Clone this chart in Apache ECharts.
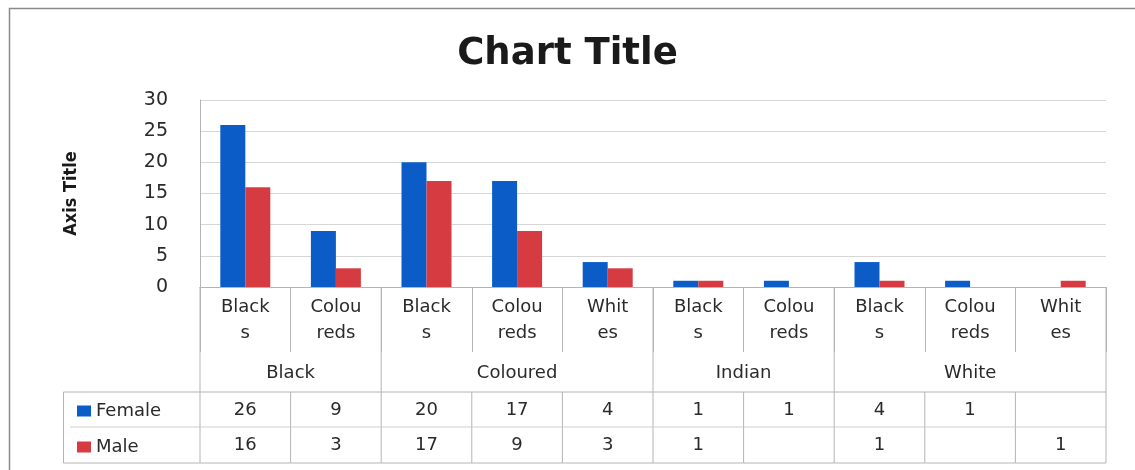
<!DOCTYPE html>
<html>
<head>
<meta charset="utf-8">
<title>Chart Title</title>
<script src="https://cdn.jsdelivr.net/npm/echarts@6.0.0/dist/echarts.min.js"></script>
<style>
  html, body { margin: 0; padding: 0; background: #ffffff; }
  #chart { width: 1135px; height: 470px; }
</style>
</head>
<body>
<div id="chart"></div>
<script>
// Sub-categories along the axis (wrapped the way the cells wrap them)
const subCategories = ['Black\ns', 'Colou\nreds', 'Black\ns', 'Colou\nreds', 'Whit\nes',
                       'Black\ns', 'Colou\nreds', 'Black\ns', 'Colou\nreds', 'Whit\nes'];
// Outer grouping and how many sub-categories each group spans
const groupNames = ['Black', 'Coloured', 'Indian', 'White'];
const groupSizes = [2, 3, 2, 3];
// Series values (null = empty cell)
const seriesNames = ['Female', 'Male'];
const female = [26, 9, 20, 17, 4, 1, 1, 4, 1, null];
const male   = [16, 3, 17, 9, 3, 1, null, 1, null, 1];
// Value axis ticks
const yMin = 0, yMax = 30, yStep = 5;

const BLUE = '#0b5cc6';
const RED = '#d73b42';
const TEXT = '#2a2a2a';
const RULE = '#b4b4b4';
const FONT = "'DejaVu Sans', Verdana, sans-serif";

// group spans: [startIndex, size]
const groupSpans = [];
let acc = 0;
groupSizes.forEach(function (n) { groupSpans.push([acc, n]); acc += n; });

const N = subCategories.length;

function rule(xa, ya, xb, yb, color) {
  return { type: 'line', shape: { x1: xa, y1: ya, x2: xb, y2: yb },
           style: { stroke: color || RULE, lineWidth: 1 } };
}

// Group captions and the separators between groups
function renderGroup(params, api) {
  const start = api.value(0), size = api.value(1);
  const band = api.size([1, 0])[0];
  const c = api.coord([start, 0]);
  const x0 = c[0] - band / 2, x1 = x0 + size * band, y0 = c[1];
  const children = [
    rule(x0, y0, x0, y0 + 105),
    {
      type: 'text',
      style: { text: groupNames[params.dataIndex], x: (x0 + x1) / 2, y: y0 + 86,
               align: 'center', verticalAlign: 'middle', fill: TEXT,
               font: '18px ' + FONT }
    }
  ];
  if (params.dataIndex === groupSpans.length - 1) children.push(rule(x1, y0, x1, y0 + 105));
  return { type: 'group', children: children };
}

// Data-table cells beneath each sub-category
function renderCell(params, api) {
  const i = api.value(0);
  const band = api.size([1, 0])[0];
  const c = api.coord([i, 0]);
  const x0 = c[0] - band / 2, x1 = c[0] + band / 2, y0 = c[1];
  const f = female[params.dataIndex], m = male[params.dataIndex];
  const children = [
    rule(x0, y0 + 105, x0, y0 + 176),
    rule(x0, y0 + 105, x1, y0 + 105),
    rule(x0, y0 + 140, x1, y0 + 140, '#cfcfcf'),
    rule(x0, y0 + 176, x1, y0 + 176),
    { type: 'text', style: { text: f == null ? '' : String(f), x: c[0], y: y0 + 123,
        align: 'center', verticalAlign: 'middle', fill: TEXT, font: '18px ' + FONT } },
    { type: 'text', style: { text: m == null ? '' : String(m), x: c[0], y: y0 + 158,
        align: 'center', verticalAlign: 'middle', fill: TEXT, font: '18px ' + FONT } }
  ];
  if (i === N - 1) children.push(rule(x1, y0 + 105, x1, y0 + 176));
  return { type: 'group', children: children };
}

const chart = echarts.init(document.getElementById('chart'), null, { renderer: 'canvas' });

chart.setOption({
  animation: false,
  backgroundColor: '#ffffff',
  title: {
    text: 'Chart Title',
    left: 'center',
    top: 31,
    textStyle: { fontFamily: FONT, fontSize: 37, fontWeight: 'bold', color: '#1a1a1a' }
  },
  legend: {
    data: seriesNames,
    orient: 'vertical',
    left: 72,
    top: 395,
    itemWidth: 14,
    itemHeight: 11,
    itemGap: 14,
    icon: 'rect',
    selectedMode: false,
    textStyle: { fontFamily: FONT, fontSize: 18, color: TEXT, lineHeight: 22 }
  },
  grid: { left: 200, right: 29, top: 100, bottom: 183 },
  xAxis: {
    type: 'category',
    data: subCategories,
    axisLine: { show: true, lineStyle: { color: RULE } },
    axisTick: { show: true, interval: 0, length: 65, lineStyle: { color: RULE } },
    axisLabel: { interval: 0, margin: 7, fontFamily: FONT, fontSize: 18,
                 lineHeight: 26, color: TEXT, hideOverlap: false },
    splitLine: { show: false }
  },
  yAxis: {
    type: 'value',
    min: yMin, max: yMax, interval: yStep,
    name: 'Axis Title',
    nameLocation: 'middle',
    nameRotate: 90,
    nameGap: 120,
    nameTextStyle: { fontFamily: "'Liberation Sans Narrow', 'DejaVu Sans Condensed', sans-serif",
                     fontSize: 18, fontWeight: 'bold', color: '#1a1a1a' },
    axisLine: { show: true, lineStyle: { color: RULE } },
    axisTick: { show: false },
    axisLabel: { margin: 32, fontFamily: FONT, fontSize: 19, color: TEXT },
    splitLine: { show: true, lineStyle: { color: '#d6d6d6' } }
  },
  series: [
    { name: 'Female', type: 'bar', data: female, barWidth: 25, barGap: '0%',
      itemStyle: { color: BLUE } },
    { name: 'Male', type: 'bar', data: male, barWidth: 25, barGap: '0%',
      itemStyle: { color: RED } },
    { type: 'custom', name: 'groups', clip: false, silent: true,
      data: groupSpans, encode: { x: 0 }, renderItem: renderGroup, z: 5 },
    { type: 'custom', name: 'table', clip: false, silent: true,
      data: subCategories.map(function (_, i) { return [i]; }), encode: { x: 0 },
      renderItem: renderCell, z: 5 }
  ],
  graphic: [
    // outer chart frame
    { type: 'polyline', shape: { points: [[9.5, 470], [9.5, 8.5], [1135, 8.5]] },
      style: { stroke: '#8a8a8a', lineWidth: 1.5, fill: null }, silent: true },
    // legend column of the data table
    { type: 'line', shape: { x1: 63.5, y1: 392, x2: 63.5, y2: 463 }, style: { stroke: RULE } },
    { type: 'line', shape: { x1: 63.5, y1: 392, x2: 200, y2: 392 }, style: { stroke: RULE } },
    { type: 'line', shape: { x1: 70, y1: 427, x2: 200, y2: 427 }, style: { stroke: '#cfcfcf' } },
    { type: 'line', shape: { x1: 63.5, y1: 463, x2: 200, y2: 463 }, style: { stroke: RULE } }
  ]
});
</script>
</body>
</html>
